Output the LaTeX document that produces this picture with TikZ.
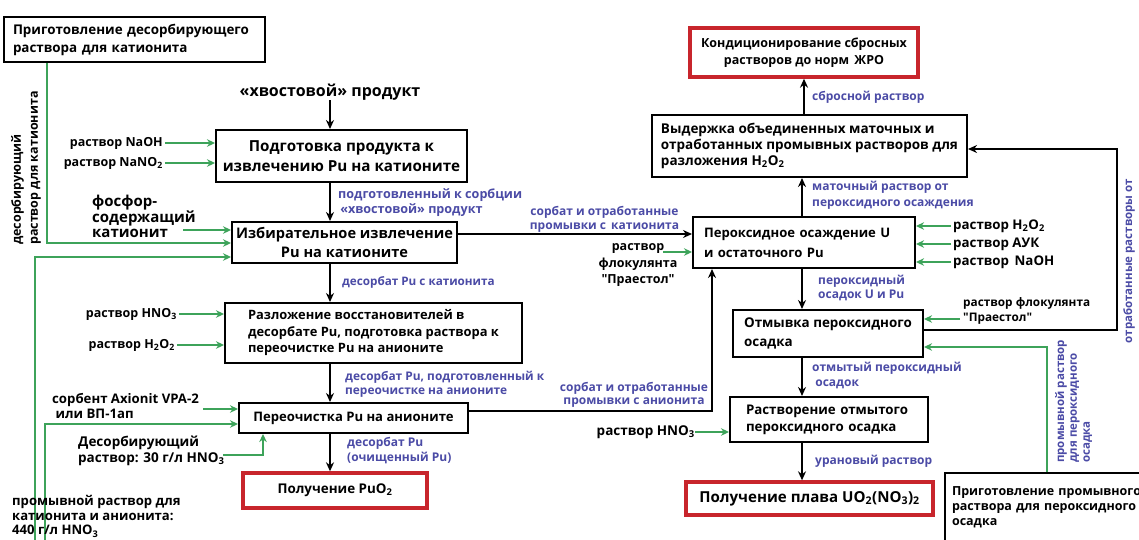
\documentclass[tikz,border=0pt]{standalone}
\usepackage{fontspec}
\setmainfont{Open Sans}[Ligatures=TeXOff]
\usetikzlibrary{arrows.meta}
\definecolor{gr}{HTML}{3DA35A}
\definecolor{bl}{HTML}{4B4BA6}
\definecolor{rd}{HTML}{C8252C}
\newcommand\fsz[2]{\fontsize{#1}{#2}\selectfont\bfseries}
\tikzset{
  box/.style={draw=black, line width=2pt, inner sep=0pt, fill=white},
  redbox/.style={draw=rd, line width=3.4pt, inner sep=0pt, fill=white},
  lbl/.style={text=bl, inner sep=0pt, align=left},
  inp/.style={text=black, inner sep=0pt, align=left},
  barrow/.style={draw=black, line width=2pt, -{Stealth[length=9pt,width=8pt]}},
  garrow/.style={draw=gr, line width=2pt, -{Stealth[length=8pt,width=7.5pt]}},
}
\begin{document}
\begin{tikzpicture}[x=1pt,y=-1pt]
\useasboundingbox (0,0) rectangle (1139,539);
\clip (0,0) rectangle (1139,539);
\fill[white] (0,0) rectangle (1139,539);

% ---------- left column boxes ----------
\node[box, minimum width=261pt, minimum height=45pt, text width=243pt, align=left, font=\fsz{13.4}{18}] (A) at (134.5,39.5)
  {Приготовление десорбирующего\\раствора для катионита};
\node[inp, font=\fsz{16}{18}] (tail) at (330,92) {«хвостовой» продукт};
\node[box, minimum width=251pt, minimum height=52pt, align=center, font=\fsz{15.2}{20}] (B) at (341.5,156)
  {Подготовка продукта к\\извлечению Pu на катионите};
\node[box, minimum width=225pt, minimum height=41pt, align=center, font=\fsz{14.6}{19}] (C) at (344.5,242.5)
  {Избирательное извлечение\\Pu на катионите};
\node[box, minimum width=297pt, minimum height=60pt, align=left, font=\fsz{12.9}{16.5}] (D) at (373.5,333)
  {Разложение восстановителей в\\десорбате Pu, подготовка раствора к\\переочистке Pu на анионите};
\node[box, minimum width=229pt, minimum height=30pt, font=\fsz{13.1}{16}] (E) at (353.5,418)
  {Переочистка Pu на анионите};
\node[redbox, minimum width=184pt, minimum height=35pt, font=\fsz{13.4}{16}] (F) at (335,490.5)
  {Получение PuO\textsubscript{2}};

% ---------- right column boxes ----------
\node[redbox, minimum width=228pt, minimum height=49pt, align=center, font=\fsz{12.5}{17}] (G) at (804,52.5)
  {Кондиционирование сбросных\\растворов до норм \,ЖРО};
\node[box, minimum width=315pt, minimum height=62pt, align=left, font=\fsz{13.5}{16}] (H) at (809.5,146)
  {Выдержка объединенных маточных и\\отработанных промывных растворов для\\разложения H\textsubscript{2}O\textsubscript{2}};
\node[box, minimum width=222pt, minimum height=51pt, text width=200pt, align=left, font=\fsz{13.1}{20}] (I) at (804,242.5)
  {Пероксидное осаждение U\\и остаточного Pu};
\node[box, minimum width=190pt, minimum height=47pt, align=left, font=\fsz{13.4}{19}] (J) at (828,333.5)
  {Отмывка пероксидного\\осадка};
\node[box, minimum width=198pt, minimum height=45pt, text width=166pt, align=left, font=\fsz{13.3}{17}] (L) at (829,419.5)
  {Растворение отмытого\\пероксидного осадка};
\node[redbox, minimum width=247pt, minimum height=33pt, font=\fsz{15.1}{18}] (M) at (809.5,498.5)
  {Получение плава UO\textsubscript{2}(NO\textsubscript{3})\textsubscript{2}};
\node[box, minimum width=254pt, minimum height=68pt, inner xsep=7pt, text width=240pt, align=left, font=\fsz{12.5}{15}] (K) at (1072,507)
  {Приготовление промывного\\раствора для пероксидного\\осадка};

% ---------- coordinates ----------
\coordinate (colL) at (330,0);
\coordinate (colR) at (802,0);
\coordinate (colRt) at (804,0);

% ---------- main black flow ----------
\draw[barrow] (tail.south -| colL) -- (B.north -| colL);
\draw[barrow] (B.south -| colL) -- (C.north -| colL);
\draw[barrow] (C.south -| colL) -- (D.north -| colL);
\draw[barrow] (D.south -| colL) -- (E.north -| colL);
\draw[barrow] (E.south -| colL) -- (F.north -| colL);

\draw[barrow] (H.north -| colRt) -- (G.south -| colRt);
\draw[barrow] (I.north -| colR) -- (H.south -| colR);
\draw[barrow] (I.south -| colR) -- (J.north -| colR);
\draw[barrow] (J.south -| colR) -- (L.north -| colR);
\draw[barrow] (L.south -| colR) -- (M.north -| colR);

\coordinate (ci) at (0,234);
\draw[barrow] (C.east |- ci) -- (I.west |- ci);
\coordinate (ei) at (712,411);
\draw[barrow] (E.east |- ei) -- (ei) -- (ei |- I.south);
\coordinate (rt1) at (1117,330);
\coordinate (rt2) at (1117,149);
\draw[barrow] (J.east |- rt1) -- (rt1) -- (rt2) -- (H.east |- rt2);

% ---------- left inputs ----------
\node[inp, anchor=east, font=\fsz{12.5}{15}] (naoh) at (163,143) {раствор NaOH};
\node[inp, anchor=east, font=\fsz{12.5}{15}] (nano) at (163,163) {раствор NaNO\textsubscript{2}};
\draw[garrow] ([xshift=2pt]naoh.east) -- (B.west |- naoh.east);
\draw[garrow] ([xshift=2pt]nano.east) -- (B.west |- nano.east);

\node[inp, anchor=west, font=\fsz{15}{14.5}] (phos) at (92,216) {фосфор-\\содержащий\\катионит};
\coordinate (phosout) at (183,230);
\draw[garrow] (phosout) -- (C.west |- phosout);

\coordinate (dA) at (47,243);
\draw[garrow] (A.south -| dA) -- (dA) -- (C.west |- dA);
\node[inp, rotate=90, anchor=north west, font=\fsz{12.5}{17}] (desorbtxt) at (11,245)
  {десорбирующий\\раствор для катионита};

\coordinate (w1) at (35,257);
\coordinate (w1b) at (35,545);
\draw[garrow] (w1b) -- (w1) -- (C.west |- w1);
\coordinate (w2) at (45,424);
\coordinate (w2b) at (45,545);
\draw[garrow] (w2b) -- (w2) -- (E.west |- w2);
\node[inp, anchor=west, font=\fsz{13.1}{14.5}] (washtxt) at (12,516.5)
  {промывной раствор для\\катионита и анионита:\\440 г/л HNO\textsubscript{3}};

\node[inp, anchor=east, font=\fsz{12.5}{15}] (hno) at (177,314) {раствор HNO\textsubscript{3}};
\node[inp, anchor=east, font=\fsz{12.5}{15}] (hho) at (175,345) {раствор H\textsubscript{2}O\textsubscript{2}};
\draw[garrow] ([xshift=2pt]hno.east) -- (D.west |- hno.east);
\draw[garrow] ([xshift=2pt]hho.east) -- (D.west |- hho.east);

\node[inp, anchor=west, font=\fsz{13.2}{15}] (sorb) at (52,405.5) {сорбент Axionit VPA-2\\\ или ВП-1ап};
\coordinate (sorbout) at (203,409);
\draw[garrow] (sorbout) -- (E.west |- sorbout);

\node[inp, anchor=west, font=\fsz{13.5}{16}] (dsol) at (78,451) {Десорбирующий\\раствор: 30 г/л HNO\textsubscript{3}};
\coordinate (dsin) at (223,455);
\coordinate (ds) at (263,455);
\draw[garrow] (dsin) -- (ds) -- (ds |- E.south);

% ---------- middle inputs ----------
\node[inp, align=center, font=\fsz{12.5}{16.5}] (floc1) at (638,265.5) {раствор\\флокулянта\\"Праестол"};
\coordinate (flocout) at (663,252);
\draw[garrow] (flocout) -- (I.west |- flocout);

\node[inp, anchor=east, font=\fsz{13.5}{15}] (hno2) at (695,432) {раствор HNO\textsubscript{3}};
\draw[garrow] (hno2.east) -- (L.west |- hno2.east);

% ---------- right inputs ----------
\node[inp, anchor=west, font=\fsz{13.3}{15}] (rh2o2) at (953,226) {раствор H\textsubscript{2}O\textsubscript{2}};
\node[inp, anchor=west, font=\fsz{13.3}{15}] (rauk) at (953,244) {раствор АУК};
\node[inp, anchor=west, font=\fsz{13.3}{15}] (rnaoh) at (953,262) {раствор \,NaOH};
\draw[garrow] ([xshift=-2pt]rh2o2.west) -- (I.east |- rh2o2.west);
\draw[garrow] ([xshift=-2pt]rauk.west) -- (I.east |- rauk.west);
\draw[garrow] ([xshift=-2pt]rnaoh.west) -- (I.east |- rnaoh.west);

\node[inp, anchor=west, font=\fsz{11.8}{15}] (floc2) at (963,310.5) {раствор флокулянта\\"Праестол"};
\coordinate (floc2out) at (960,319);
\draw[garrow] (floc2out) -- (J.east |- floc2out);

\coordinate (kw) at (1047,347);
\draw[garrow] (K.north -| kw) -- (kw) -- (J.east |- kw);

% ---------- blue labels ----------
\node[lbl, anchor=west, font=\fsz{12.6}{15}] (l1) at (338,202.5) {подготовленный к сорбции\\\,«хвостовой» продукт};
\node[lbl, anchor=west, font=\fsz{11.7}{15}] (l2) at (342,282) {десорбат Pu с катионита};
\node[lbl, anchor=west, font=\fsz{11.9}{14}] (l3) at (345,384) {десорбат Pu, подготовленный к\\переочистке на анионите};
\node[lbl, anchor=west, font=\fsz{12}{15}] (l4) at (347,450.5) {десорбат Pu\\(очищенный Pu)};
\node[lbl, align=center, font=\fsz{12}{14}] (l5) at (604.5,219) {сорбат и отработанные\\промывки с \,катионита};
\node[lbl, align=center, font=\fsz{12}{13}] (l6) at (634,394.5) {сорбат и отработанные\\промывки с анионита};
\node[lbl, anchor=west, font=\fsz{12}{15}] (l7) at (812,97) {сбросной раствор};
\node[lbl, anchor=west, font=\fsz{12}{16}] (l8) at (812,195) {маточный раствор от\\пероксидного осаждения};
\node[lbl, anchor=west, font=\fsz{12}{14}] (l9) at (818,288) {пероксидный\\осадок U и Pu};
\node[lbl, anchor=west, font=\fsz{12}{15}] (l10) at (812,375.5) {отмытый пероксидный\\\ осадок};
\node[lbl, anchor=west, font=\fsz{12}{15}] (l11) at (815,461) {урановый раствор};
\node[lbl, rotate=90, font=\fsz{11.5}{13}] (l12) at (1129,261) {отработанные растворы от};
\node[lbl, rotate=90, anchor=north west, font=\fsz{11.5}{12.8}] (l13) at (1055,463) {промывной раствор\\для пероксидного\\осадка};
\end{tikzpicture}
\end{document}
